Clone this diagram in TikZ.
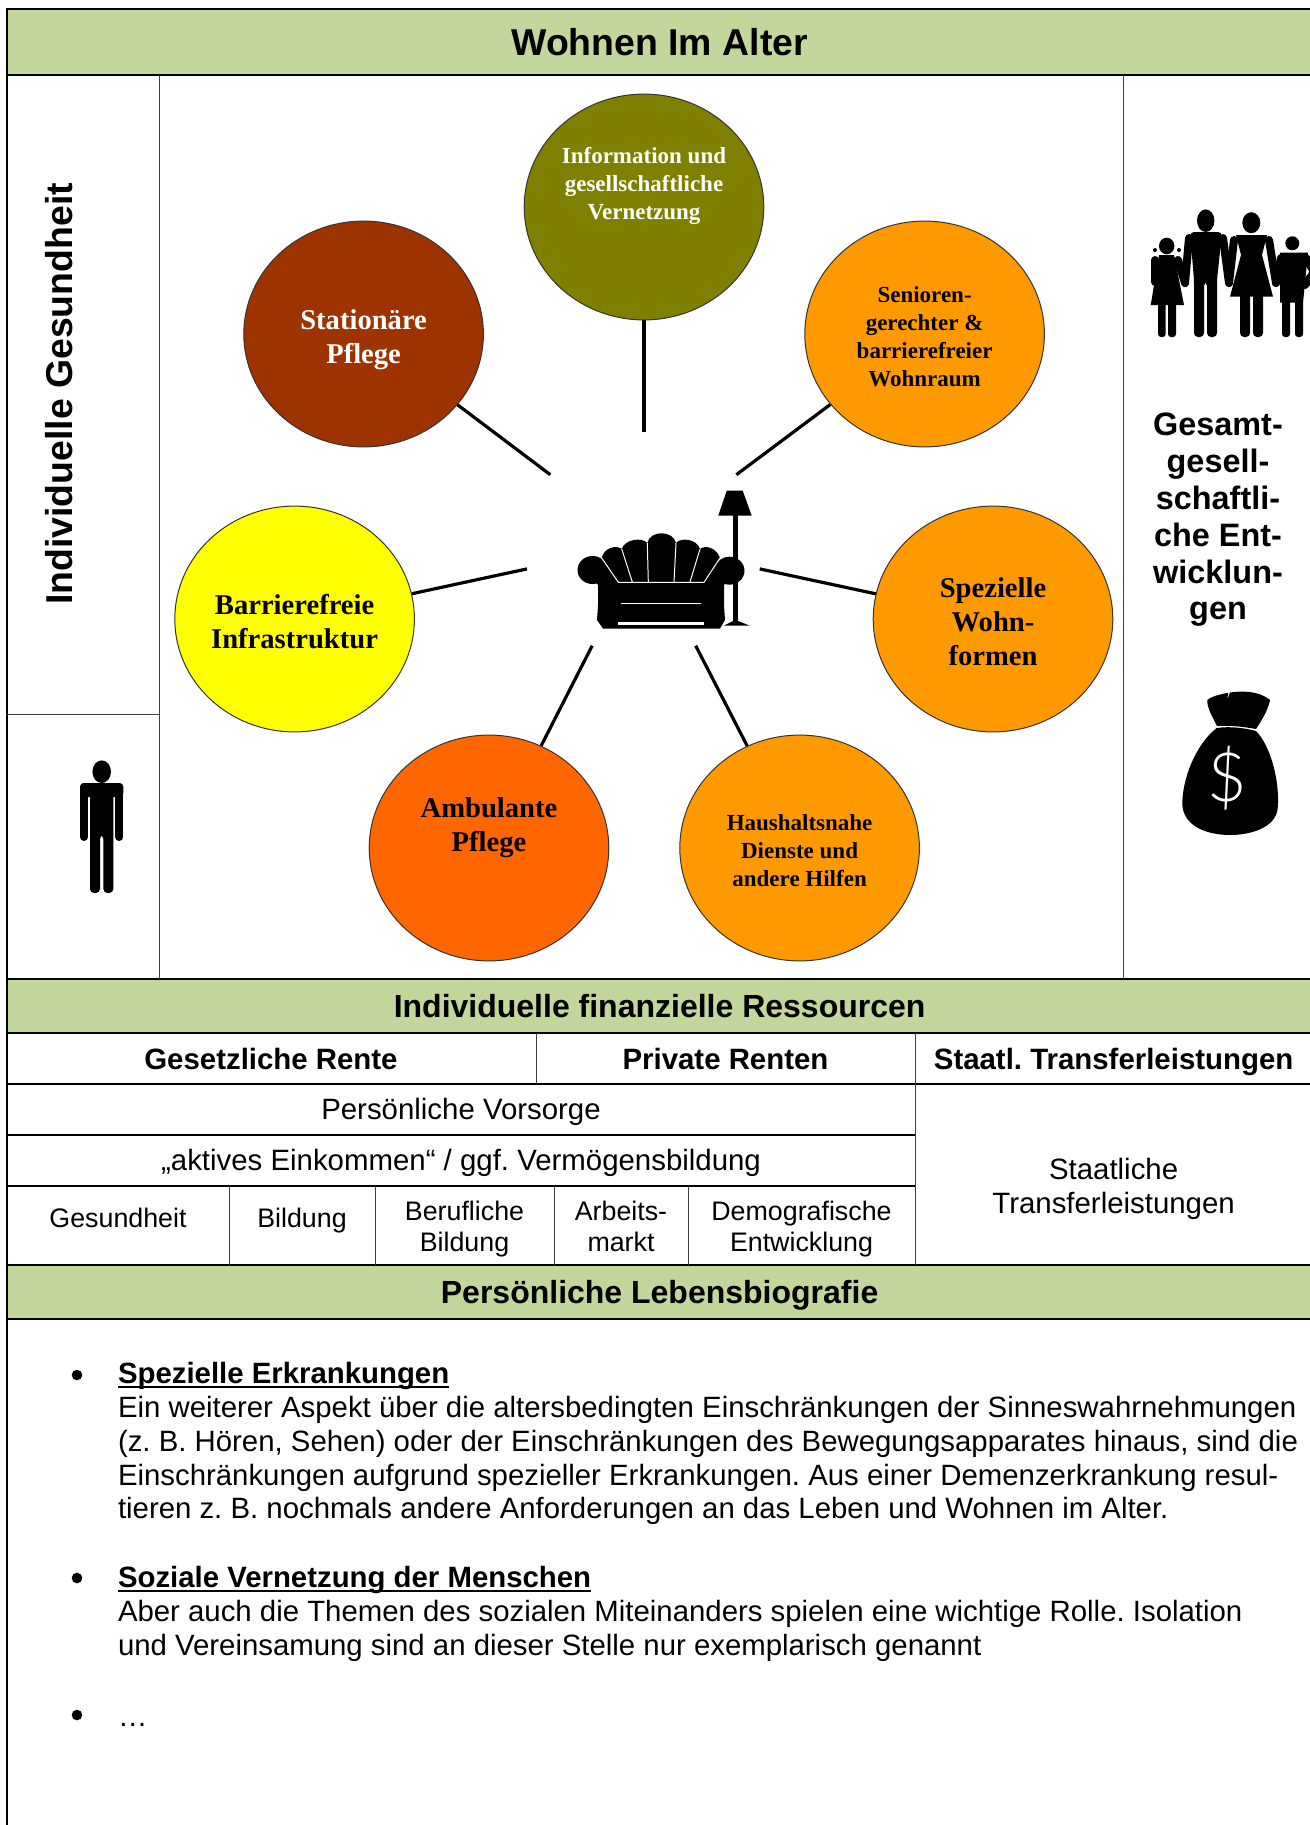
\documentclass[tikz,border=0pt]{standalone}
\usepackage{fontspec}
\setmainfont{Liberation Sans}
\newfontfamily\serifbub{Liberation Serif}
\newfontfamily\thinfont{Lato Light}
\usetikzlibrary{shapes.geometric,positioning}

\definecolor{bandgreen}{HTML}{C3D69B}
\definecolor{olivebub}{HTML}{808000}
\definecolor{orangebub}{HTML}{FF9900}
\definecolor{brownbub}{HTML}{9E3300}
\definecolor{redbub}{HTML}{FF6600}
\definecolor{yellowbub}{HTML}{FFFF00}

\newsavebox\headbox
\newcommand{\ulhead}[1]{\sbox\headbox{\textbf{#1}}\usebox\headbox\llap{\rule[-2.2pt]{\wd\headbox}{1pt}}}
\newcommand{\lowerby}[1]{\rule{0pt}{#1}}

\begin{document}
\frenchspacing
\begin{tikzpicture}[
    x=0.5pt, y=-0.5pt,
    band/.style={draw, line width=1pt, fill=bandgreen, minimum width=652.9pt, inner sep=0pt, text depth=0pt, font=\fontsize{16}{18}\selectfont\bfseries},
    rulethick/.style={line width=1pt},
    rulethin/.style={line width=0.5pt, draw=black!75},
    bubble/.style={ellipse, draw=black!80, line width=0.5pt, minimum width=119.8pt, minimum height=112.9pt, inner sep=0pt, align=center},
    bubbleL/.style={bubble, font=\serifbub\fontsize{14.3}{17}\selectfont\bfseries},
    bubbleS/.style={bubble, font=\serifbub\fontsize{11.5}{14}\selectfont\bfseries},
    spoke/.style={line width=1.6pt},
    cellhead/.style={inner sep=0pt, text depth=0pt, font=\fontsize{14.7}{16}\selectfont\bfseries},
    cell/.style={inner sep=0pt, align=center, font=\fontsize{14.7}{17}\selectfont},
    cellsmall/.style={inner sep=0pt, align=center, font=\fontsize{13.4}{15.4}\selectfont},
    para/.style={anchor=north west, inner sep=0pt, align=left, font=\fontsize{14.68}{16.9}\selectfont},
    bulletmark/.style={circle, fill=black, inner sep=0pt, minimum size=5.3pt},
    icon/.style={fill=black},
    limb/.style={draw=black, line width=4pt, line cap=round},
    slit/.style={draw=white, line width=0.5pt}
]
\clip (0,0) rectangle (1310,1825);
\fill[white] (0,0) rectangle (1310,1825);

% Bands
\node[band, minimum height=32.75pt] (title) at (659.6,42) {\fontsize{18.7}{22}\selectfont Wohnen Im Alter};
\node[band, minimum height=26.85pt] (finance) at (659.6,1005.8) {Individuelle finanzielle Ressourcen};
\node[band, minimum height=27pt] (bio) at (659.6,1292) {Persönliche Lebensbiografie};

% Table lines
\draw[rulethick] (6.7,9) -- (6.7,1825);
\draw[rulethin] (159.3,75) -- (159.3,979);
\draw[rulethin] (1123.5,75) -- (1123.5,979);
\draw[rulethin] (6.7,714) -- (159.3,714);
\draw[rulethick] (6.7,1084) -- (1310,1084);
\draw[rulethick] (6.7,1135) -- (915,1135);
\draw[rulethick] (6.7,1186) -- (915,1186);
\draw[rulethin] (536,1033) -- (536,1084);
\draw[rulethin] (915,1033) -- (915,1265);
\foreach \xcell in {229,375,554,688}
    \draw[rulethin] (\xcell,1186) -- (\xcell,1265);

% Side texts
\node[rotate=90, inner sep=0pt, font=\fontsize{18.7}{20}\selectfont\bfseries] (health) at (59,394) {Individuelle Gesundheit};
\node[inner sep=0pt, align=center, font=\fontsize{16.2}{18.4}\selectfont\bfseries] (society) at (1218,520) {Gesamt-\\gesell-\\schaftli-\\che Ent-\\wicklun-\\gen};

% Bubbles
\node[bubbleS, fill=olivebub, text=white] (info) at (644,207) {Information und\\gesellschaftliche\\Vernetzung\\[10pt]~};
\node[bubbleS, fill=orangebub] (senior) at (924.6,334) {\lowerby{10.2pt}Senioren-\\gerechter \&\\barrierefreier\\Wohnraum};
\node[bubbleL, fill=orangebub] (special) at (993,619) {\lowerby{12.2pt}Spezielle\\Wohn-\\formen};
\node[bubbleS, fill=orangebub] (house) at (799.6,848) {\lowerby{10.2pt}Haushaltsnahe\\Dienste und\\andere Hilfen};
\node[bubbleL, fill=redbub] (ambul) at (489,848) {Ambulante\\Pflege\\[6pt]~};
\node[bubbleL, fill=yellowbub] (barrier) at (294.6,619) {\lowerby{12.8pt}Barrierefreie\\Infrastruktur};
\node[bubbleL, fill=brownbub, text=white] (station) at (363.6,334) {\lowerby{15.8pt}Stationäre\\Pflege};

% Spokes
\coordinate (endinfo) at (644,431.6);
\coordinate (endsenior) at (736.4,474.7);
\coordinate (endspecial) at (759.7,568.9);
\coordinate (endhouse) at (695.7,645.7);
\coordinate (endambul) at (592.2,645.7);
\coordinate (endbarrier) at (527,568.9);
\coordinate (endstation) at (550.3,474.7);
\foreach \bub/\tip in {info/endinfo,senior/endsenior,special/endspecial,house/endhouse,ambul/endambul,barrier/endbarrier,station/endstation}
    \draw[spoke] (\bub) -- (\tip);

% Lamp
\fill[icon] (726.7,490.7) -- (742.7,490.7) -- (751.7,515.7) -- (718.3,515.7) -- cycle;
\fill[icon] (733.3,515) rectangle (738.3,624);
\fill[icon] (724,625.5) -- (733,621) -- (738,621) -- (749.3,625.5) -- cycle;

% Sofa
\fill[icon] (601.7,558) .. controls (604,547) and (617,545) .. (621.7,549)
    .. controls (625,539) and (642,537) .. (647.3,543)
    .. controls (650,530) and (673,530) .. (676,543)
    .. controls (681,537) and (697,539) .. (700,549)
    .. controls (705,545) and (716,547) .. (720,558)
    -- (704,582) -- (618,582) -- cycle;
\fill[icon] (592.5,570) ellipse [x radius=15, y radius=14];
\fill[icon] (729.5,570.7) ellipse [x radius=15, y radius=14];
\fill[icon] (591,578) -- (608,560) -- (618.3,582) -- (704,582) -- (714,560) -- (730,578) -- (724,585) -- (724,606) -- (725,620) -- (720,628.5) -- (603,628.5) -- (597,620) -- (598,606) -- (598,585) -- cycle;
\draw[slit] (601.7,558) -- (618.3,582.3) -- (704,582.3) -- (720,558);
\draw[slit] (621.7,549) -- (632.3,582);
\draw[slit] (647.3,543) -- (648.3,582);
\draw[slit] (676,543) -- (674,582);
\draw[slit] (700,549) -- (690,582);
\draw[slit] (621,603.3) -- (700.7,603.3);
\draw[draw=white, line width=1.5pt] (617.7,623.5) -- (704,623.5);

% Single person
\fill[icon] (101.7,771.7) ellipse [x radius=9.3, y radius=11.3];
\fill[icon, rounded corners=2pt] (90,783) -- (113.3,783) -- (113.3,893) -- (103.4,893) -- (103.4,835) -- (100,835) -- (100,893) -- (90,893) -- cycle;
\draw[limb] (84,787) -- (84,837);
\draw[limb] (119.4,787) -- (119.4,837);
\fill[icon, rounded corners=2pt] (80,783) rectangle (123.4,797);

% Family
\fill[icon] (1166.7,246) ellipse [x radius=7.7, y radius=8.3];
\fill[icon] (1155,250) circle [radius=2];
\fill[icon] (1179,250) circle [radius=2];
\fill[icon] (1159,255) -- (1174,255) -- (1184,305) -- (1150.7,305) -- cycle;
\fill[icon, rounded corners=1.5pt] (1158,300) rectangle (1165.7,337);
\fill[icon, rounded corners=1.5pt] (1168,300) rectangle (1176,337);
\draw[limb] (1155,260) -- (1155,282);
\draw[limb] (1178,260) -- (1185,283);
\fill[icon] (1205.7,220.7) ellipse [x radius=8.7, y radius=11.3];
\fill[icon, rounded corners=2pt] (1190,232) -- (1222,232) -- (1217,280) -- (1217,337) -- (1207,337) -- (1207,282) -- (1204,282) -- (1204,337) -- (1194,337) -- (1194,280) -- cycle;
\draw[limb] (1189,238) -- (1185,283);
\draw[limb] (1223,238) -- (1229,283);
\fill[icon] (1251.3,222.7) ellipse [x radius=9, y radius=10.5];
\fill[icon] (1236,235) -- (1267,235) -- (1262,255) -- (1273,296.7) -- (1230,296.7) -- (1241,255) -- cycle;
\fill[icon, rounded corners=2pt] (1240,290) rectangle (1250,337);
\fill[icon, rounded corners=2pt] (1253,290) rectangle (1263,337);
\draw[limb] (1234,240) -- (1229,283);
\draw[limb] (1269,240) -- (1276,283);
\fill[icon] (1292.3,243.3) circle [radius=7];
\fill[icon] (1280,252.7) -- (1308,252.7) -- (1303,302.7) -- (1280,302.7) -- cycle;
\fill[icon, rounded corners=1.5pt] (1282,298) rectangle (1290,337);
\fill[icon, rounded corners=1.5pt] (1295,298) rectangle (1303,337);
\draw[limb] (1281,258) -- (1276,283);
\draw[limb] (1306,258) -- (1314,272) -- (1305,285);

% Money bag
\fill[icon] (1207.3,700) .. controls (1212,696) and (1222,694) .. (1228.3,692.7) -- (1227,700) -- (1230,692.5)
    .. controls (1240,691) and (1258,690) .. (1270,700)
    .. controls (1268,710) and (1262,720) .. (1256,729)
    .. controls (1245,727) and (1230,725) .. (1217,726)
    .. controls (1212,716) and (1207,708) .. (1207.3,700) -- cycle;
\fill[icon] (1216.7,728) .. controls (1230,726) and (1245,728) .. (1256,731)
    .. controls (1270,745) and (1280,780) .. (1277.7,808)
    .. controls (1276,828) and (1250,835) .. (1230,835)
    .. controls (1210,835) and (1184,828) .. (1182.3,805)
    .. controls (1182,780) and (1195,745) .. (1216.7,728) -- cycle;
\node[inner sep=0pt, text=white, font=\thinfont\fontsize{34}{34}\selectfont] (dollar) at (1227,778) {\$};

% Table texts
\node[cellhead] (legal) at (271,1059) {Gesetzliche Rente};
\node[cellhead] (private) at (725.5,1059) {Private Renten};
\node[cellhead] (statehead) at (1113.6,1059) {Staatl. Transferleistungen};
\node[cell] (savings) at (461,1113) {Persönliche Vorsorge\strut};
\node[cell] (income) at (461,1164) {„aktives Einkommen“ / ggf. Vermögensbildung\strut};
\node[cell] (state) at (1113.6,1191) {Staatliche\\Transferleistungen\strut};
\node[cellsmall] (cgesund) at (118,1221.5) {Gesundheit\strut};
\node[cellsmall] (cbild) at (302,1221.5) {Bildung\strut};
\node[cellsmall] (cberuf) at (464.5,1231) {Berufliche\\Bildung\strut};
\node[cellsmall] (carbeit) at (621,1231) {Arbeits-\\markt\strut};
\node[cellsmall] (cdemo) at (801.5,1231) {Demografische\\Entwicklung\strut};

% Bullets
\node[bulletmark] (dot1) at (77,1375) {};
\node[para] (illness) at (117.6,1362) {\ulhead{Spezielle Erkrankungen}\\
Ein weiterer Aspekt über die altersbedingten Einschränkungen der Sinneswahrnehmungen\\
(z. B. Hören, Sehen) oder der Einschränkungen des Bewegungsapparates hinaus, sind die\\
Einschränkungen aufgrund spezieller Erkrankungen. Aus einer Demenzerkrankung resul-\\
tieren z. B. nochmals andere Anforderungen an das Leben und Wohnen im Alter.};
\node[bulletmark] (dot2) at (77,1578) {};
\node[para] (social) at (117.6,1566) {\ulhead{Soziale Vernetzung der Menschen}\\
Aber auch die Themen des sozialen Miteinanders spielen eine wichtige Rolle. Isolation\\
und Vereinsamung sind an dieser Stelle nur exemplarisch genannt};
\node[bulletmark] (dot3) at (77,1715) {};
\node[para] (more) at (117.6,1723) {…};

\end{tikzpicture}
\end{document}
